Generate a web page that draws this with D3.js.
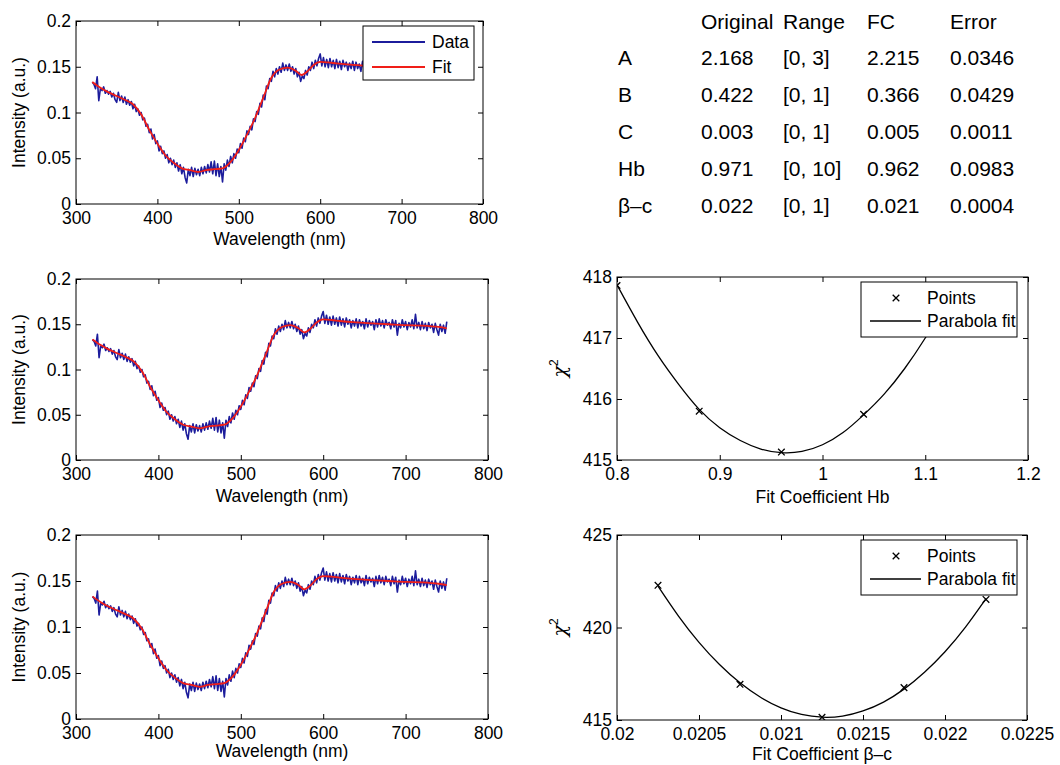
<!DOCTYPE html>
<html>
<head>
<meta charset="utf-8">
<script src="https://cdn.jsdelivr.net/npm/d3@7"></script>
<style>
  html, body { margin: 0; padding: 0; background: #ffffff; }
  svg text { font-family: "Liberation Sans", Arial, Helvetica, sans-serif; fill: #000; }
</style>
</head>
<body>
<svg id="fig" width="1060" height="765"></svg>
<script>
// ---- Measured reflectance spectrum (2 nm sampling, starting at 320 nm) ----
const wavelengthStart = 320;
const wavelengthStep = 2;
const intensity = [
  .133, .131, .126, .139, .113, .126, .124, .128, .121, .124,
  .120, .123, .117, .121, .114, .111, .122, .113, .118, .111,
  .117, .109, .114, .108, .112, .104, .109, .101, .104, .097,
  .100, .092, .094, .085, .087, .078, .082, .071, .076, .066,
  .069, .058, .063, .055, .058, .050, .054, .045, .050, .043,
  .048, .040, .045, .036, .043, .033, .040, .029, .023, .038,
  .031, .040, .030, .039, .032, .038, .031, .040, .033, .041,
  .034, .043, .035, .046, .033, .047, .031, .044, .030, .041,
  .024, .044, .037, .048, .041, .052, .045, .055, .050, .060,
  .056, .066, .061, .072, .068, .080, .076, .085, .081, .093,
  .090, .101, .098, .110, .106, .119, .114, .129, .126, .137,
  .134, .145, .139, .148, .142, .150, .144, .154, .146, .152,
  .146, .153, .145, .150, .142, .148, .139, .144, .134, .140,
  .137, .146, .141, .150, .146, .155, .148, .157, .151, .159,
  .164, .151, .160, .150, .158, .149, .159, .150, .157, .148,
  .158, .149, .156, .147, .157, .150, .155, .146, .154, .148,
  .156, .146, .155, .148, .153, .145, .156, .147, .154, .149,
  .153, .144, .155, .147, .156, .148, .154, .146, .155, .149,
  .152, .145, .155, .147, .154, .138, .151, .146, .155, .147,
  .153, .144, .152, .147, .155, .145, .161, .146, .152, .144,
  .153, .145, .151, .143, .152, .146, .150, .141, .151, .144,
  .138, .150, .142, .149, .140, .153
];

// ---- Model fit of the spectrum ----
const fitWavelength = [320, 330, 340, 350, 360, 370, 380, 390, 400, 410, 420, 430, 440, 450,
  460, 470, 480, 490, 500, 510, 520, 530, 540, 550, 560, 570, 577, 585, 592, 600, 610, 620,
  640, 660, 680, 700, 720, 740, 750];
const fitIntensity = [.1333, .127, .122, .118, .114, .109, .098, .081, .066, .053, .045, .039,
  .037, .035, .037, .038, .039, .046, .059, .0755, .094, .116, .138, .147, .149, .1455, .141,
  .1455, .152, .1554, .1547, .1536, .152, .151, .150, .149, .1485, .147, .1455];

const spectrumXTicks = [300, 400, 500, 600, 700, 800];
const spectrumXTickLabels = ["300", "400", "500", "600", "700", "800"];
const spectrumYTicks = [0, 0.05, 0.1, 0.15, 0.2];
const spectrumYTickLabels = ["0", "0.05", "0.1", "0.15", "0.2"];

// ---- Chi-square scan over the Hb coefficient ----
const hbCoefficient = [0.8, 0.88, 0.96, 1.04, 1.12];
const hbChi2 = [417.86, 415.80, 415.13, 415.75, 417.50];
const hbCurveX = [0.80, 0.82, 0.84, 0.86, 0.88, 0.90, 0.92, 0.94, 0.96, 0.98, 1.00, 1.02, 1.04,
  1.06, 1.08, 1.10, 1.12];
const hbCurveChi2 = [417.87, 417.26, 416.71, 416.24, 415.83, 415.53, 415.32, 415.18, 415.12,
  415.14, 415.25, 415.45, 415.74, 416.08, 416.50, 417.00, 417.56];
const hbXTicks = [0.8, 0.9, 1, 1.1, 1.2];
const hbXTickLabels = ["0.8", "0.9", "1", "1.1", "1.2"];
const hbYTicks = [415, 416, 417, 418];
const hbYTickLabels = ["415", "416", "417", "418"];

// ---- Chi-square scan over the beta-carotene coefficient ----
const bcCoefficient = [0.02025, 0.02075, 0.02125, 0.02175, 0.02225];
const bcChi2 = [422.28, 416.93, 415.15, 416.75, 421.52];
const bcCurveX = [0.02025, 0.020375, 0.0205, 0.020625, 0.02075, 0.020875, 0.021, 0.021125,
  0.02125, 0.021375, 0.0215, 0.021625, 0.02175, 0.021875, 0.022, 0.022125, 0.02225];
const bcCurveChi2 = [422.24, 420.62, 419.20, 418.00, 417.01, 416.23, 415.66, 415.30, 415.15,
  415.21, 415.49, 415.97, 416.67, 417.58, 418.69, 420.02, 421.56];
const bcXTicks = [0.02, 0.0205, 0.021, 0.0215, 0.022, 0.0225];
const bcXTickLabels = ["0.02", "0.0205", "0.021", "0.0215", "0.022", "0.0225"];
const bcYTicks = [415, 420, 425];
const bcYTickLabels = ["415", "420", "425"];

// ---- Fit-coefficient summary table ----
const tableHeader = ["Original", "Range", "FC", "Error"];
const parameterNames = ["A", "B", "C", "Hb", "β–c"];
const originalValues = ["2.168", "0.422", "0.003", "0.971", "0.022"];
const rangeValues = ["[0, 3]", "[0, 1]", "[0, 1]", "[0, 10]", "[0, 1]"];
const fcValues = ["2.215", "0.366", "0.005", "0.962", "0.021"];
const errorValues = ["0.0346", "0.0429", "0.0011", "0.0983", "0.0004"];

// ---------------------------------------------------------------------------
const svg = d3.select("#fig");
const FONT = '"Liberation Sans", Arial, Helvetica, sans-serif';
const TICK_FS = 17.5;
const DATA_BLUE = "#1c1c9c";
const FIT_RED = "#f01e18";

const spectrum = intensity.map((v, i) => ({ x: wavelengthStart + i * wavelengthStep, y: v }));
const fitLine = fitWavelength.map((w, i) => ({ x: w, y: fitIntensity[i] }));

let clipId = 0;

function makePanel(box, xDomain, yDomain, xTicks, xLabels, yTicks, yLabels) {
  const x = d3.scaleLinear().domain(xDomain).range([box.left, box.right]);
  const y = d3.scaleLinear().domain(yDomain).range([box.bottom, box.top]);
  const g = svg.append("g");

  const id = "clip" + (clipId++);
  svg.append("clipPath").attr("id", id).append("rect")
    .attr("x", box.left).attr("y", box.top)
    .attr("width", box.right - box.left).attr("height", box.bottom - box.top);
  const plot = g.append("g").attr("clip-path", `url(#${id})`);

  const styleAxis = sel => {
    sel.select(".domain").remove();
    sel.attr("font-family", FONT).attr("font-size", TICK_FS);
    sel.selectAll("line").attr("stroke", "#000").attr("stroke-width", 1);
    sel.selectAll("text").attr("fill", "#000");
  };

  g.append("g").attr("transform", `translate(0,${box.bottom})`)
    .call(d3.axisBottom(x).tickValues(xTicks).tickFormat((d, i) => xLabels[i])
      .tickSizeInner(-5).tickSizeOuter(0).tickPadding(8))
    .call(styleAxis);
  g.append("g").attr("transform", `translate(0,${box.top})`)
    .call(d3.axisTop(x).tickValues(xTicks).tickFormat("")
      .tickSizeInner(-5).tickSizeOuter(0))
    .call(styleAxis);
  g.append("g").attr("transform", `translate(${box.left},0)`)
    .call(d3.axisLeft(y).tickValues(yTicks).tickFormat((d, i) => yLabels[i])
      .tickSizeInner(-5).tickSizeOuter(0).tickPadding(5))
    .call(styleAxis);
  g.append("g").attr("transform", `translate(${box.right},0)`)
    .call(d3.axisRight(y).tickValues(yTicks).tickFormat("")
      .tickSizeInner(-5).tickSizeOuter(0))
    .call(styleAxis);

  return { x, y, g, plot, box };
}

function frame(p) {
  p.g.append("rect")
    .attr("x", p.box.left).attr("y", p.box.top)
    .attr("width", p.box.right - p.box.left).attr("height", p.box.bottom - p.box.top)
    .attr("fill", "none").attr("stroke", "#000").attr("stroke-width", 1);
}

function xLabel(p, text, yBase) {
  return p.g.append("text")
    .attr("x", (p.box.left + p.box.right) / 2).attr("y", yBase)
    .attr("text-anchor", "middle").attr("font-size", TICK_FS)
    .text(text);
}

function spectrumPanel(box, labelY, withLegend) {
  const p = makePanel(box, [300, 800], [0, 0.2], spectrumXTicks, spectrumXTickLabels,
    spectrumYTicks, spectrumYTickLabels);
  const line = d3.line().x(d => p.x(d.x)).y(d => p.y(d.y));
  p.plot.append("path").datum(spectrum).attr("d", line)
    .attr("fill", "none").attr("stroke", DATA_BLUE).attr("stroke-width", 1.6)
    .attr("stroke-linejoin", "round");
  p.plot.append("path").datum(fitLine)
    .attr("d", line.curve(d3.curveMonotoneX))
    .attr("fill", "none").attr("stroke", FIT_RED).attr("stroke-width", 1.8);
  frame(p);
  xLabel(p, "Wavelength (nm)", labelY);
  p.g.append("text")
    .attr("transform", `translate(25,${(box.top + box.bottom) / 2}) rotate(-90)`)
    .attr("text-anchor", "middle").attr("font-size", TICK_FS)
    .text("Intensity (a.u.)");

  if (withLegend) {
    const lg = p.g.append("g");
    lg.append("rect").attr("x", 363).attr("y", 26).attr("width", 111).attr("height", 54)
      .attr("fill", "#fff").attr("stroke", "#000").attr("stroke-width", 1);
    [["Data", DATA_BLUE, 42], ["Fit", FIT_RED, 67]].forEach(([name, col, yy]) => {
      lg.append("line").attr("x1", 372).attr("x2", 425).attr("y1", yy).attr("y2", yy)
        .attr("stroke", col).attr("stroke-width", 1.8);
      lg.append("text").attr("x", 432).attr("y", yy).attr("dy", "0.35em")
        .attr("font-size", TICK_FS).text(name);
    });
  }
  return p;
}

function chiPanel(box, xDomain, yDomain, xTicks, xLabels, yTicks, yLabels,
                  ptsX, ptsY, curveX, curveY, label, labelY) {
  const p = makePanel(box, xDomain, yDomain, xTicks, xLabels, yTicks, yLabels);
  const line = d3.line().x(d => p.x(d[0])).y(d => p.y(d[1])).curve(d3.curveNatural);
  p.plot.append("path").datum(curveX.map((v, i) => [v, curveY[i]])).attr("d", line)
    .attr("fill", "none").attr("stroke", "#000").attr("stroke-width", 1.3);
  const cross = d3.symbol().type(d3.symbolX).size(30);
  p.plot.selectAll("path.pt").data(ptsX.map((v, i) => [v, ptsY[i]])).join("path")
    .attr("class", "pt").attr("d", cross)
    .attr("transform", d => `translate(${p.x(d[0])},${p.y(d[1])})`)
    .attr("fill", "none").attr("stroke", "#000").attr("stroke-width", 1.3);
  frame(p);

  // legend
  const lx = 861, ly = box.top + 5;
  const lg = p.g.append("g");
  lg.append("rect").attr("x", lx).attr("y", ly).attr("width", 156).attr("height", 55)
    .attr("fill", "#fff").attr("stroke", "#000").attr("stroke-width", 1);
  lg.append("path").attr("d", d3.symbol().type(d3.symbolX).size(30))
    .attr("transform", `translate(896,${ly + 16})`)
    .attr("fill", "none").attr("stroke", "#000").attr("stroke-width", 1.3);
  lg.append("text").attr("x", 927).attr("y", ly + 16).attr("dy", "0.35em")
    .attr("font-size", TICK_FS).text("Points");
  lg.append("line").attr("x1", 870).attr("x2", 921).attr("y1", ly + 39).attr("y2", ly + 39)
    .attr("stroke", "#000").attr("stroke-width", 1.3);
  lg.append("text").attr("x", 927).attr("y", ly + 39).attr("dy", "0.35em")
    .attr("font-size", TICK_FS).text("Parabola fit");

  xLabel(p, label, labelY);
  const yl = p.g.append("text")
    .attr("transform", `translate(566,${(box.top + box.bottom) / 2}) rotate(-90)`)
    .attr("text-anchor", "middle").attr("font-size", 19);
  yl.append("tspan").attr("font-family", "DejaVu Serif, serif").attr("font-style", "italic").text("χ");
  yl.append("tspan").attr("font-size", 12).attr("dy", "-0.7em").text("2");
  return p;
}

// Spectra with fits
spectrumPanel({ left: 76, right: 483, top: 21, bottom: 204 }, 245, true);
spectrumPanel({ left: 76, right: 488, top: 279, bottom: 460 }, 502, false);
spectrumPanel({ left: 76, right: 488, top: 535, bottom: 719 }, 757, false);

// Chi-square scans
chiPanel({ left: 617, right: 1028, top: 277, bottom: 460 }, [0.8, 1.2], [415, 418],
  hbXTicks, hbXTickLabels, hbYTicks, hbYTickLabels,
  hbCoefficient, hbChi2, hbCurveX, hbCurveChi2, "Fit Coefficient Hb", 503);
chiPanel({ left: 617, right: 1027, top: 535, bottom: 720 }, [0.02, 0.0225], [415, 425],
  bcXTicks, bcXTickLabels, bcYTicks, bcYTickLabels,
  bcCoefficient, bcChi2, bcCurveX, bcCurveChi2, "Fit Coefficient β–c", 760);

// Coefficient table
const table = svg.append("g").attr("font-size", 21);
const colX = [618, 701, 783, 867, 950];
const rowBase = i => 28.5 + 36.8 * i;
tableHeader.forEach((h, j) => {
  table.append("text").attr("x", colX[j + 1]).attr("y", rowBase(0)).text(h);
});
parameterNames.forEach((name, i) => {
  const cells = [name, originalValues[i], rangeValues[i], fcValues[i], errorValues[i]];
  cells.forEach((c, j) => {
    table.append("text").attr("x", colX[j]).attr("y", rowBase(i + 1)).text(c);
  });
});
</script>
</body>
</html>
